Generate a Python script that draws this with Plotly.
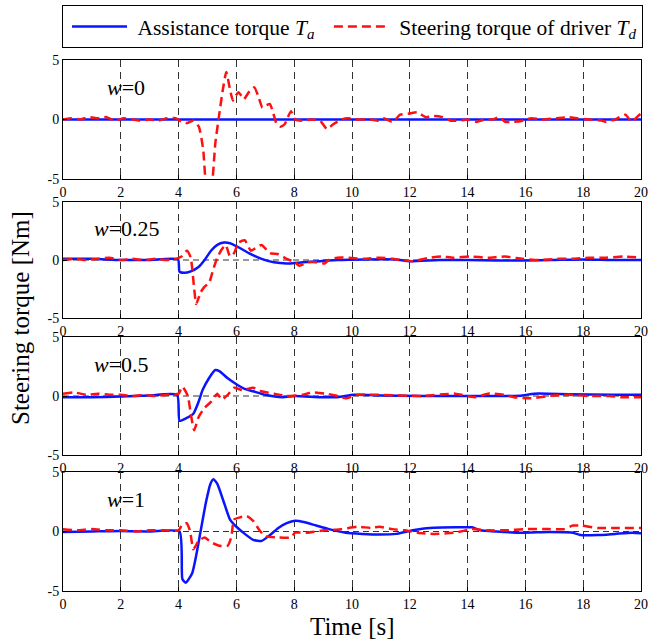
import plotly.graph_objects as go
from plotly.subplots import make_subplots

# ---------------- data ----------------
weights = ["0", "0.25", "0.5", "1"]

t_ta0 = [0, 4, 8, 12, 16, 20]
ta0 = [0, 0, 0, 0, 0, 0]
t_td0 = [0, 0.3, 0.6, 0.9, 1.2, 1.5, 1.8, 2.1, 2.4, 2.7, 3.0, 3.3, 3.6, 3.9, 4.1, 4.3, 4.5, 4.7, 4.85, 4.95,
         5.05, 5.15, 5.27, 5.41, 5.53, 5.65, 5.78, 5.88, 5.98, 6.07, 6.17, 6.26, 6.43, 6.62, 6.75, 6.9, 7.04,
         7.16, 7.28, 7.38, 7.53, 7.67, 7.78, 7.89, 8.03, 8.3, 8.6, 8.9, 9.13, 9.35, 9.64, 9.85, 10.2, 10.66,
         10.9, 11.1, 11.4, 11.67, 11.97, 12.26, 12.55, 12.84, 13.13, 13.42, 13.71, 14.0, 14.3, 14.6, 14.88,
         15.1, 15.3, 15.6, 15.9, 16.2, 16.6, 17.06, 17.5, 17.8, 18.2, 18.66, 18.8, 19.1, 19.46, 19.68, 19.9, 20.0]
td0 = [0.0, 0.1, 0.0, 0.2, 0.1, 0.2, -0.1, 0.1, 0.0, -0.1, 0.0, -0.1, 0.1, 0.1, -0.2, -0.3, -0.1, -0.6, -2.5, -5.5,
       -6.0, -5.5, -2.0, 0.5, 2.5, 4.0, 2.5, 1.6, 2.0, 2.3, 2.0, 1.7, 2.3, 2.7, 2.0, 1.0, 1.2,
       1.3, 0.5, -0.3, -0.6, -0.4, 0.2, 0.7, 0.0, -0.1, 0.0, -0.1, -0.8, -0.4, 0.0, 0.1, 0.0, 0.0,
       -0.1, 0.1, -0.2, 0.4, 0.5, 0.6, 0.2, 0.3, 0.2, -0.1, -0.1, 0.0, -0.2, 0.0, 0.0,
       0.2, -0.2, -0.2, -0.1, 0.1, 0.0, 0.1, 0.2, 0.1, 0.0, -0.1, -0.2, 0.0, 0.4, -0.2, 0.3, 0.5]

t_ta25 = [0, 1, 2, 3, 3.98, 4.03, 4.2, 4.4, 4.69, 4.9, 5.12, 5.34, 5.56, 5.78, 6.07, 6.43, 6.87, 7.3, 7.74,
          8.3, 8.9, 9.5, 10.5, 11.5, 12, 13, 14, 15, 16, 17, 18, 19, 20]
ta25 = [0.1, 0.1, 0.0, 0.0, 0.05, -1.0, -1.1, -1.0, -0.6, 0.0, 0.8, 1.3, 1.5, 1.45, 1.1, 0.6, 0.1, -0.2, -0.3,
        -0.2, -0.1, 0.0, 0.05, 0.05, -0.1, 0.0, 0.0, -0.05, -0.05, 0.0, 0.05, 0.0, 0.0]
t_td25 = [0, 0.4, 0.8, 1.2, 1.6, 2.0, 2.4, 2.8, 3.2, 3.6, 3.9, 4.1, 4.29, 4.42, 4.54, 4.61, 4.76, 4.9, 5.05,
          5.2, 5.34, 5.49, 5.63, 5.78, 5.92, 6.07, 6.29, 6.5, 6.65, 6.87, 7.16, 7.45, 7.74, 8.03, 8.18, 8.47,
          8.76, 9.05, 9.2, 9.49, 9.9, 10.4, 10.95, 11.4, 11.7, 12.1, 12.7, 13.1, 13.5, 14.1, 14.7, 15.3, 15.9,
          16.5, 17.1, 17.6, 18.2, 18.8, 19.4, 20.0]
td25 = [0.0, 0.1, 0.0, 0.1, 0.2, 0.0, 0.1, 0.0, 0.1, 0.0, 0.1, 0.3, 0.8, 0.2, -2.5, -3.8, -2.8, -2.3, -2.0,
        -0.8, 0.2, 0.9, 1.3, 0.3, 0.6, 1.5, 1.7, 0.8, 1.0, 1.3, 0.6, 0.5, 0.1, -0.2, -0.5, -0.2,
        -0.2, -0.3, 0.0, 0.2, 0.2, 0.1, 0.2, 0.1, 0.0, -0.1, 0.2, 0.3, 0.2, 0.3, 0.2, 0.3, 0.1,
        0.0, 0.1, 0.1, 0.2, 0.2, 0.3, 0.2]

t_ta50 = [0, 1, 2, 3, 3.95, 4.03, 4.25, 4.51, 4.69, 4.83, 5.05, 5.27, 5.41, 5.7, 6.0, 6.29, 6.58, 7.0, 7.6,
          8.03, 8.9, 9.5, 10.07, 11, 12.4, 14, 15.5, 15.9, 16.3, 16.8, 17.5, 19, 20]
ta50 = [-0.1, -0.1, -0.05, 0.05, 0.1, -2.1, -1.9, -1.5, -0.5, 0.5, 1.5, 2.2, 2.1, 1.5, 1.0, 0.6, 0.4, 0.1, -0.1,
        0.0, -0.1, -0.1, 0.1, 0.05, 0.0, 0.0, 0.0, 0.05, 0.2, 0.2, 0.15, 0.1, 0.1]
t_td50 = [0, 0.4, 0.8, 1.2, 1.6, 2.0, 2.4, 2.8, 3.2, 3.6, 4.0, 4.13, 4.32, 4.42, 4.54, 4.69, 4.9, 5.12, 5.34,
          5.49, 5.7, 5.92, 6.2, 6.58, 6.87, 7.3, 7.74, 8.3, 8.6, 9.05, 9.49, 9.78, 10.2, 10.95, 12.4, 13.57,
          14.0, 14.3, 14.7, 15.3, 15.6, 16.2, 16.8, 17.5, 18.2, 18.9, 19.3, 20]
td50 = [0.2, 0.3, 0.1, 0.2, 0.1, 0.1, 0.0, 0.1, 0.0, 0.1, 0.2, 0.8, 0.0, -1.5, -2.9, -1.8, -1.0, -0.5, 0.2,
        -0.3, 0.1, 0.7, 0.5, 0.7, 0.4, 0.2, 0.0, 0.1, 0.3, 0.2, 0.0, -0.2, 0.1, 0.1, 0.0, 0.2,
        0.0, -0.1, 0.2, 0.1, -0.1, -0.2, 0.0, 0.1, 0.0, 0.0, -0.1, -0.1]

t_ta1 = [0, 1, 2, 3, 4.03, 4.13, 4.25, 4.47, 4.61, 4.76, 4.95, 5.1, 5.2, 5.34, 5.56, 5.78, 6.0, 6.29, 6.58,
         6.87, 7.16, 7.45, 7.74, 8.03, 8.33, 8.76, 9.2, 9.78, 10.36, 10.95, 11.53, 12.1, 12.7, 13.57, 14.15,
         14.44, 15.0, 15.9, 16.8, 17.64, 17.9, 18.5, 19.1, 19.7, 20]
ta1 = [-0.05, 0.0, 0.05, 0.0, 0.0, -4.0, -4.3, -3.5, -2.0, 0.0, 2.5, 4.0, 4.4, 4.0, 2.5, 1.0, 0.4, -0.2, -0.7,
       -0.8, -0.3, 0.3, 0.7, 0.9, 0.8, 0.5, 0.2, -0.1, -0.2, -0.25, -0.2, 0.1, 0.3, 0.35, 0.35,
       0.1, 0.0, -0.1, -0.05, -0.1, -0.3, -0.3, -0.2, -0.1, -0.15]
t_td1 = [0, 0.5, 1.0, 1.5, 2.0, 2.5, 3.0, 3.5, 4.0, 4.13, 4.28, 4.4, 4.51, 4.69, 4.9, 5.12, 5.41, 5.7, 5.82,
         5.92, 6.14, 6.36, 6.58, 6.8, 7.0, 7.45, 7.89, 8.03, 8.47, 9.05, 9.64, 10.2, 10.66, 10.95, 11.4,
         11.82, 12.26, 12.84, 13.57, 14.15, 14.73, 15.3, 16.04, 16.8, 17.35, 17.64, 17.93, 18.5, 19.1, 20]
td1 = [0.2, 0.1, 0.2, 0.1, 0.1, 0.0, 0.1, 0.1, 0.1, 0.6, 0.7, 0.0, -1.5, -0.8, -0.5, -0.9, -1.2, -1.2, -0.5,
       1.0, 1.2, 1.3, 0.9, 0.1, -0.4, -0.5, -0.5, -0.1, -0.1, 0.1, 0.2, 0.4, 0.3, 0.4, 0.2,
       0.1, -0.1, -0.2, -0.1, 0.2, 0.1, 0.1, 0.2, 0.2, 0.2, 0.5, 0.5, 0.3, 0.3, 0.3]

series = [(t_ta0, ta0, t_td0, td0), (t_ta25, ta25, t_td25, td25),
          (t_ta50, ta50, t_td50, td50), (t_ta1, ta1, t_td1, td1)]

x_ticks = [0, 2, 4, 6, 8, 10, 12, 14, 16, 18, 20]
y_ticks = [-5, 0, 5]

# ---------------- figure ----------------
W, H = 662, 644
ml, mr, mt, mb = 63, 21, 60, 53
ph = H - mt - mb
pw = W - ml - mr
# panel pixel extents (top, bottom)
panels_px = [(60, 179), (202, 318), (337, 455), (472, 591)]

fig = make_subplots(rows=4, cols=1)
font_family = "Liberation Serif, Times New Roman, serif"

for i, (tta, ta, ttd, td) in enumerate(series):
    r = i + 1
    fig.add_trace(go.Scatter(x=tta, y=ta, mode="lines",
                             name="&nbsp;Assistance torque <i>T<sub>a</sub></i>&nbsp;",
                             line=dict(color="#0a14ff", width=2.5, shape="spline", smoothing=0.5),
                             showlegend=(i == 0)), row=r, col=1)
    fig.add_trace(go.Scatter(x=ttd, y=td, mode="lines",
                             name="&nbsp;Steering torque of driver <i>T<sub>d</sub></i>",
                             line=dict(color="#ff1010", width=2.5, dash="9px,5px", shape="spline", smoothing=0.5),
                             showlegend=(i == 0)), row=r, col=1)
    top, bot = panels_px[i]
    y0 = (H - mb - bot) / ph
    y1 = (H - mb - top) / ph
    ax_suffix = "" if r == 1 else str(r)
    fig.layout["yaxis" + ax_suffix].update(
        domain=[y0, y1], range=[-5, 5], tickvals=y_ticks, ticktext=[str(v) for v in y_ticks],
        showgrid=False, zeroline=False, showline=True, mirror=True, linecolor="black", linewidth=1,
        ticks="inside", ticklen=4, tickcolor="black", automargin=False,
        tickfont=dict(family=font_family, size=14, color="black"))
    fig.layout["xaxis" + ax_suffix].update(
        range=[0, 20], tickvals=x_ticks, showgrid=True, gridcolor="#333333", gridwidth=1, griddash="7px,5px",
        zeroline=False, showline=True, mirror=True, linecolor="black", linewidth=1,
        ticks="inside", ticklen=4, tickcolor="black", automargin=False,
        tickfont=dict(family=font_family, size=14, color="black"))
    # dashed zero reference
    fig.add_shape(type="line", xref="x" + ax_suffix, yref="y" + ax_suffix, x0=0, x1=20, y0=0, y1=0,
                  line=dict(color="#333333", width=1, dash="6px,4px"), layer="below")
    fig.add_annotation(x=1.0 if weights[i] in ("0.25", "0.5") else 1.45, y=2.7, xref="x" + ax_suffix,
                       yref="y" + ax_suffix, text="<i>w</i>=" + weights[i], showarrow=False, xanchor="left",
                       font=dict(family=font_family, size=22, color="black"))

fig.add_annotation(x=-43 / pw, y=(591 - 318) / ph, xref="paper", yref="paper", text="Steering torque [Nm]",
                   textangle=-90, showarrow=False, xanchor="center", yanchor="middle",
                   font=dict(family=font_family, size=25, color="black"))
fig.add_annotation(x=(352 - ml) / pw, y=-(626 - 591) / ph, xref="paper", yref="paper", text="Time [s]",
                   showarrow=False, yanchor="middle", font=dict(family=font_family, size=25, color="black"))

fig.update_layout(
    width=W, height=H, margin=dict(l=ml, r=mr, t=mt, b=mb, autoexpand=False),
    paper_bgcolor="white", plot_bgcolor="white",
    legend=dict(orientation="h", x=(62 - ml) / pw, xanchor="left", y=1 + (60 - 5) / ph, yanchor="top",
                bordercolor="black", borderwidth=1, bgcolor="white", itemwidth=55, indentation=4,
                font=dict(family=font_family, size=21.5, color="black")),
    showlegend=True,
)

fig.write_html("out.html", config={"displayModeBar": False},
               post_script="document.body.style.margin='0px';document.body.style.overflow='hidden';")
